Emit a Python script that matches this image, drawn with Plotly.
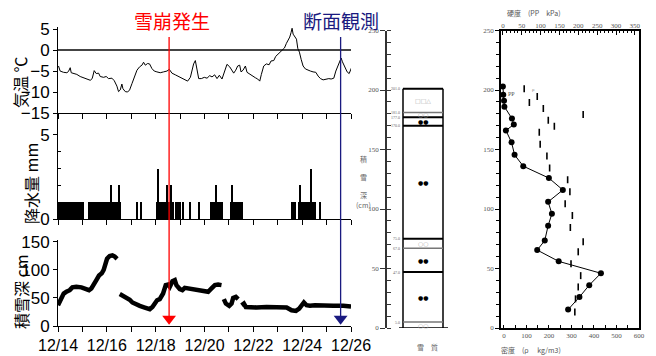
import plotly.graph_objects as go
import pandas as pd

# the page adds an 8 px body margin, so the figure is drawn 8 px smaller and all pixel
# positions below are given in screenshot coordinates and shifted by OFF
OFF = 8
W, H = 648, 348
BASE = pd.Timestamp("2010-12-14")

# ---------------- data ----------------
temp_hours = [0, 1.6, 4.9, 8.2, 9.8, 11.5, 12.5, 14.8, 18, 21.3, 24.6, 27.9, 31.2, 33.1, 35.1, 37.1,
              39.4, 41, 44.3, 46.9, 49.2, 52.5, 54.8, 57.4, 59, 60.7, 62.3, 63.3, 65.6, 67.9, 69.9,
              72.2, 74.5, 77.1, 79.7, 82, 83.6, 85.3, 87.6, 89.5, 91.8, 94.1, 96.7, 100, 103.3, 106.6,
              108.9, 111.5, 114.8, 118, 121.4, 124.6, 126.9, 129.6, 131.2, 132.8, 134.5, 136.1, 137.8,
              140.4, 143.3, 146, 148.6, 150.9, 153.5, 155.8, 158.1, 160.7, 162.4, 164, 165.6, 168.3,
              170.6, 172.2, 174.2, 176.1, 178.1, 179.4, 181.4, 183.7, 185.3, 188, 190.6, 193.5, 195.8,
              197.8, 199.4, 201.7, 204.3, 207, 208.9, 211.6, 213.5, 215.5, 218.1, 220.1, 222.1, 224,
              226, 227.3, 228.6, 229.6, 230.6, 231.9, 233.9, 235.2, 236.8, 238.5, 240.4, 242.7, 245,
              247.6, 250.2, 252.9, 255.2, 257.5, 260.1, 262.7, 265.7, 268, 270.6, 272.6, 274.5, 276.5,
              277.8, 279.1, 281.1, 283.7, 285.7, 287, 288]
temp_values = [-3.8, -5.0, -5.3, -5.4, -5.1, -4.2, -5.4, -5.5, -5.8, -6.3, -6.6, -7.0, -7.2, -6.8, -4.9, -5.6,
               -5.5, -6.3, -6.5, -6.3, -6.8, -6.7, -7.3, -8.6, -9.9, -9.5, -8.1, -9.2, -9.9, -10.0, -9.5,
               -8.0, -6.3, -4.8, -4.0, -3.6, -2.9, -3.6, -3.2, -3.3, -4.4, -5.0, -5.2, -5.4, -5.2, -5.0,
               -4.6, -5.5, -5.9, -6.3, -6.7, -7.2, -7.4, -6.5, -4.8, -3.3, -2.5, -4.6, -6.8,
               -6.8, -6.5, -6.7, -6.1, -6.4, -5.9, -6.8, -6.0, -6.9, -5.5, -4.2, -3.4, -4.0,
               -5.0, -5.5, -4.8, -3.8, -3.6, -5.2, -4.8, -3.8, -5.3, -5.8, -6.2, -6.6, -6.9,
               -7.4, -5.8, -3.8, -3.3, -3.5, -2.6, -2.5, -1.5, -1.0, -0.4, 0.2, 0.5, 1.6,
               2.5, 3.1, 4.2, 5.2, 3.8, 3.4, 2.6, 0.4, -0.5, -2.2, -3.8, -4.5, -4.8,
               -5.0, -5.2, -5.3, -6.2, -6.8, -7.1, -7.0, -6.8, -6.9, -6.7, -5.0, -3.8, -2.6,
               -1.9, -2.8, -4.0, -5.2, -5.6, -4.6, -4.2]

# hourly precipitation: runs of 1 mm (start hour, end hour) and larger single-hour values
precip_runs_1mm = [(0, 18), (20, 20), (22, 22), (24, 24), (30, 60), (77, 77), (81, 81), (97, 113),
                   (115, 115), (117, 117), (119, 119), (122, 122), (129, 129), (138, 138), (150, 157),
                   (159, 159), (161, 161), (170, 176), (178, 178), (180, 180), (230, 232), (236, 250),
                   (252, 252), (257, 257)]
precip_peak_hours = [52, 59, 98, 107, 111, 155, 171, 237, 248]
precip_peak_values = [2, 2, 3, 2, 2, 2, 2, 2, 3]

snow_seg_hours = [
    [0, 3.3, 5.6, 8.2, 11.5, 14.1, 18.0, 23.0, 27.2, 30.5, 32.8, 35.1, 37.7, 40.3, 43.0, 44.9, 46.9,
     48.2, 50.8, 53.5, 55.8, 58.1],
    [60.7, 64.0, 67.2, 70.5, 73.1, 76.4, 80.4, 85.3, 90.2, 92.8, 95.1, 97.4, 100.0, 103.3, 105.9, 108.2,
     109.9, 112.5, 114.8, 116.4, 119.7, 122.3, 124.6, 127.9, 132.8, 139.4, 144.3, 147.6, 150.9, 154.2,
     157.4, 160.7],
    [163.0, 165.0, 168.3, 170.6, 172.2, 174.8, 177.1],
    [180.4, 182.7, 184.6, 188.6, 195.2, 205.0, 214.8, 224.7, 229.6, 233.9, 237.1, 239.4, 241.7, 244.3,
     247.6, 252.6, 260.8, 270.6, 280.4, 288],
]
snow_seg_depth = [
    [37, 48, 58, 61, 64, 69, 70, 69, 67, 64, 67, 76, 82, 90, 94, 100, 111, 120, 125, 126, 124, 120],
    [57, 54, 50, 47, 42, 38.5, 36, 33, 30, 34, 40, 46, 48, 58, 73, 74, 70, 80, 82, 73, 66, 64, 68, 67,
     66, 64, 63, 61, 67, 73, 74, 73],
    [48, 40, 36, 40, 50, 52, 48],
    [37, 40, 34, 33, 33, 34, 34, 33, 28, 27, 31, 37, 42, 37, 36, 37, 36, 36, 36, 35],
]

event_labels = ["雪崩発生", "断面観測"]
event_hours = [109.2, 277.8]
event_colors = ["#ff0000", "#1a1a80"]

# snow pit
layer_tops = [201.0, 181.0, 177.0, 170.0, 75.0, 67.0, 47.0, 5.0]
layer_line_gray = [False, True, False, False, False, True, False, True]
layer_grain = ["□□△", "○○", "●●", "●●", "○○", "●●", "●●", "○○"]
layer_grain_gray = [True, True, False, False, True, False, False, True]

pp_height = [203, 196, 191, 186, 176, 171, 166, 156, 145.5, 136, 126, 116, 106, 96, 86, 73.5, 65.5, 56,
             46, 36, 26, 15.5]
pp_hardness = [0, 1, 3, 4, 24, 29, 8, 23, 31, 54, 122, 159, 120, 130, 120, 111, 91, 148, 260, 229, 203,
               173]
rho_height = [201, 194.5, 189.5, 184.5, 179.5, 174.5, 169.5, 164.5, 154.5, 144.5, 134.5, 124.5, 114.5,
              104.5, 94.5, 84.5, 72.5, 64, 54, 44, 34.5, 24.5, 13.5]
rho_density = [90, 148, 113, 175, 352, 197, 224, 157, 161, 191, 203, 283, 293, 272, 304, 295, 352, 330,
               298, 341, 330, 318, 315]

# ---------------- helpers ----------------
def tt(hours):
    return [None if h is None else BASE + pd.Timedelta(hours=h) for h in hours]

def px(v):
    return (v - OFF) / W

def py(v):
    return 1 - (v - OFF) / H

precip_h, precip_v = [], []
for a, b in precip_runs_1mm:
    for h in range(a, b + 1):
        precip_h.append(h)
        precip_v.append(1)
for h, v in zip(precip_peak_hours, precip_peak_values):
    if h in precip_h:
        precip_v[precip_h.index(h)] = v
    else:
        precip_h.append(h)
        precip_v.append(v)

snow_h, snow_d = [], []
for hs, ds in zip(snow_seg_hours, snow_seg_depth):
    snow_h += hs + [None]
    snow_d += ds + [None]

SANS = "Liberation Sans Narrow, Arial Narrow, Liberation Sans, Arial"
JP = "Noto Sans CJK JP"
SERIF = "Liberation Serif, DejaVu Serif, serif"

fig = go.Figure()
fig.add_trace(go.Scatter(x=tt([h + 0.5 for h in temp_hours]), y=temp_values, mode="lines",
                         line=dict(color="black", width=1), xaxis="x", yaxis="y"))
fig.add_trace(go.Bar(x=tt([h + 0.5 for h in precip_h]), y=precip_v, width=3600000,
                     marker=dict(color="black", line=dict(width=0)), xaxis="x2", yaxis="y2"))
fig.add_trace(go.Scatter(x=tt(snow_h), y=snow_d, mode="lines", connectgaps=False,
                         line=dict(color="black", width=4.5), xaxis="x3", yaxis="y3"))
fig.add_trace(go.Scatter(x=tt(event_hours), y=[13, 13], mode="markers", cliponaxis=False,
                         marker=dict(symbol="triangle-down", size=12, color=event_colors,
                                     line=dict(width=0)),
                         xaxis="x3", yaxis="y3"))
fig.add_trace(go.Scatter(x=rho_density, y=rho_height, mode="markers",
                         marker=dict(symbol="line-ns", size=5, line=dict(width=1.6, color="black")),
                         xaxis="x5", yaxis="y5"))
fig.add_trace(go.Scatter(x=pp_hardness, y=pp_height, mode="lines+markers", cliponaxis=False,
                         line=dict(color="black", width=1),
                         marker=dict(symbol="circle", size=6, color="black"),
                         xaxis="x6", yaxis="y5"))

xr = [BASE, BASE + pd.Timedelta(days=12)]
DAY = 86400000
xcommon = dict(type="date", range=xr, showline=True, linecolor="black", linewidth=1,
               ticks="outside", ticklen=5, tickcolor="black", tick0=BASE, dtick=2 * DAY,
               minor=dict(dtick=DAY, ticks="outside", ticklen=5, tickcolor="black"),
               showgrid=False, zeroline=False, domain=[px(58), px(351)], automargin=False)
ycommon = dict(showline=True, linecolor="black", linewidth=1, ticks="outside", ticklen=4,
               tickcolor="black", showgrid=False, automargin=False,
               tickfont=dict(family=SANS, size=17, color="black"))

small_tick = dict(family=SERIF, size=7, color="#555")

layout = dict(
    width=W, height=H, margin=dict(l=0, r=0, t=0, b=0), showlegend=False,
    paper_bgcolor="white", plot_bgcolor="white", bargap=0,
    xaxis=dict(**xcommon, anchor="y", showticklabels=False),
    yaxis=dict(**ycommon, domain=[py(113), py(27)], range=[-15, 5.5], tickvals=[-15, -10, -5, 0, 5],
               zeroline=True, zerolinecolor="#444", zerolinewidth=1.5),
    xaxis2=dict(**xcommon, anchor="y2", showticklabels=False, matches="x"),
    yaxis2=dict(**ycommon, domain=[py(219), py(113)], range=[0, 6.3], tickvals=[0, 5],
                minor=dict(tickvals=[1, 2, 3, 4], ticks="inside", ticklen=3, tickcolor="black"),
                zeroline=False),
    xaxis3=dict(**xcommon, anchor="y3", showticklabels=True, tickformat="%m/%d", matches="x",
                tickangle=0, tickfont=dict(family=SANS, size=16, color="black")),
    yaxis3=dict(**ycommon, domain=[py(326), py(240)], range=[0, 153.5], tickvals=[0, 50, 100, 150],
                zeroline=False),
    xaxis4=dict(domain=[px(387), px(455)], range=[0, 68], visible=False, anchor="y4",
                automargin=False),
    yaxis4=dict(domain=[py(328), py(30.5)], range=[0, 250], anchor="x4", showline=True,
                linecolor="#333", linewidth=1.5, ticks="outside", ticklen=5, tickcolor="#333",
                dtick=50, minor=dict(dtick=10, ticks="inside", ticklen=4, tickcolor="#333"),
                showgrid=False, zeroline=False, tickfont=small_tick, automargin=False),
    xaxis5=dict(domain=[px(501), px(639)], range=[-13, 600], anchor="y5", showline=True, mirror=True,
                linecolor="black", linewidth=1.5, ticks="inside", ticklen=3, tickcolor="black",
                dtick=100, tick0=0, minor=dict(dtick=50, ticks="inside", ticklen=3, tickcolor="black"),
                showgrid=False, zeroline=False, tickfont=small_tick, automargin=False),
    xaxis6=dict(overlaying="x5", side="top", anchor="y5", range=[-5, 361], showline=False,
                ticks="inside", ticklen=4, tickcolor="black", dtick=50, tick0=0,
                minor=dict(dtick=10, ticks="inside", ticklen=2, tickcolor="black"),
                showgrid=False, zeroline=False, tickfont=small_tick, automargin=False),
    yaxis5=dict(domain=[py(328), py(30.5)], range=[0, 250], anchor="x5", showline=True, mirror=True,
                linecolor="black", linewidth=1.5, ticks="outside", ticklen=4, tickcolor="black",
                dtick=50, minor=dict(dtick=10, ticks="outside", ticklen=3, tickcolor="black"),
                showgrid=False, zeroline=False, tickfont=small_tick, automargin=False),
)
fig.update_layout(**layout)

shapes = []
annotations = []
# event lines
for lab, h, c, tx in zip(event_labels, event_hours, event_colors, [172, 341]):
    shapes.append(dict(type="line", xref="x3", yref="paper", x0=tt([h])[0], x1=tt([h])[0],
                       y0=py(37), y1=py(316), line=dict(color=c, width=1.3)))
    annotations.append(dict(text=lab, xref="paper", yref="paper", x=px(tx), y=py(21), showarrow=False,
                            font=dict(family=JP, size=19, color=c), xanchor="center", yanchor="middle"))

# y-axis titles (left)
for txt, xp, yp in [("気温 ℃", 20, 82), ("降水量 mm", 31, 184), ("積雪深 cm", 21, 292)]:
    annotations.append(dict(text=txt, xref="paper", yref="paper", x=px(xp), y=py(yp), showarrow=False,
                            textangle=-90, font=dict(family=JP, size=16, color="black"),
                            xanchor="center", yanchor="middle"))

# snow pit column
COL_L, COL_R = 16, 56
bounds = layer_tops + [0.0]
shapes.append(dict(type="line", xref="x4", yref="y4", x0=COL_L, x1=COL_L, y0=0, y1=layer_tops[0],
                   line=dict(color="black", width=1.5)))
shapes.append(dict(type="line", xref="x4", yref="y4", x0=COL_R, x1=COL_R, y0=0, y1=layer_tops[0],
                   line=dict(color="black", width=1.5)))
shapes.append(dict(type="line", xref="x4", yref="y4", x0=COL_L - 4, x1=COL_R + 5, y0=0, y1=0,
                   line=dict(color="black", width=1.5)))
for i, b in enumerate(layer_tops):
    gray = layer_line_gray[i]
    shapes.append(dict(type="line", xref="x4", yref="y4", x0=COL_L, x1=COL_R, y0=b, y1=b,
                       line=dict(color="#777" if gray else "black", width=2 if not gray else 1.5)))
    annotations.append(dict(text=f"{b:.1f}", xref="x4", yref="y4", x=COL_L - 1, y=b, showarrow=False,
                            xanchor="right", yanchor="middle",
                            font=dict(family=SERIF, size=4, color="#666")))
    mid = (b + bounds[i + 1]) / 2
    annotations.append(dict(text=layer_grain[i], xref="x4", yref="y4", x=(COL_L + COL_R) / 2, y=mid,
                            showarrow=False, xanchor="center", yanchor="middle",
                            font=dict(family="DejaVu Sans", size=6,
                                      color="#aaa" if layer_grain_gray[i] else "black")))
annotations.append(dict(text="積<br><br>雪<br><br>深<br>(cm)", xref="paper", yref="paper", x=px(363),
                        y=py(182), showarrow=False, xanchor="center", yanchor="middle",
                        font=dict(family=JP, size=7, color="#666")))
annotations.append(dict(text="雪　質", xref="paper", yref="paper", x=px(427), y=py(347),
                        showarrow=False, xanchor="center", yanchor="middle",
                        font=dict(family=JP, size=7, color="#666")))

# right panel titles and labels
annotations.append(dict(text="硬度　(PP　kPa)", xref="paper", yref="paper", x=px(563), y=py(13),
                        showarrow=False, yanchor="middle", font=dict(family=JP, size=7, color="#555")))
annotations.append(dict(text="密度　(ρ　 kg/m3)", xref="paper", yref="paper", x=px(563), y=py(350),
                        showarrow=False, yanchor="middle", font=dict(family=JP, size=7, color="#555")))
annotations.append(dict(text="PP", xref="paper", yref="paper", x=px(506), y=py(89), xanchor="left",
                        showarrow=False, font=dict(family=SERIF, size=6, color="#555")))
annotations.append(dict(text="ρ", xref="paper", yref="paper", x=px(533), y=py(85), xanchor="center",
                        showarrow=False, font=dict(family=SERIF, size=5, color="#777")))

fig.update_layout(shapes=shapes, annotations=annotations)
fig.write_html("out.html")
